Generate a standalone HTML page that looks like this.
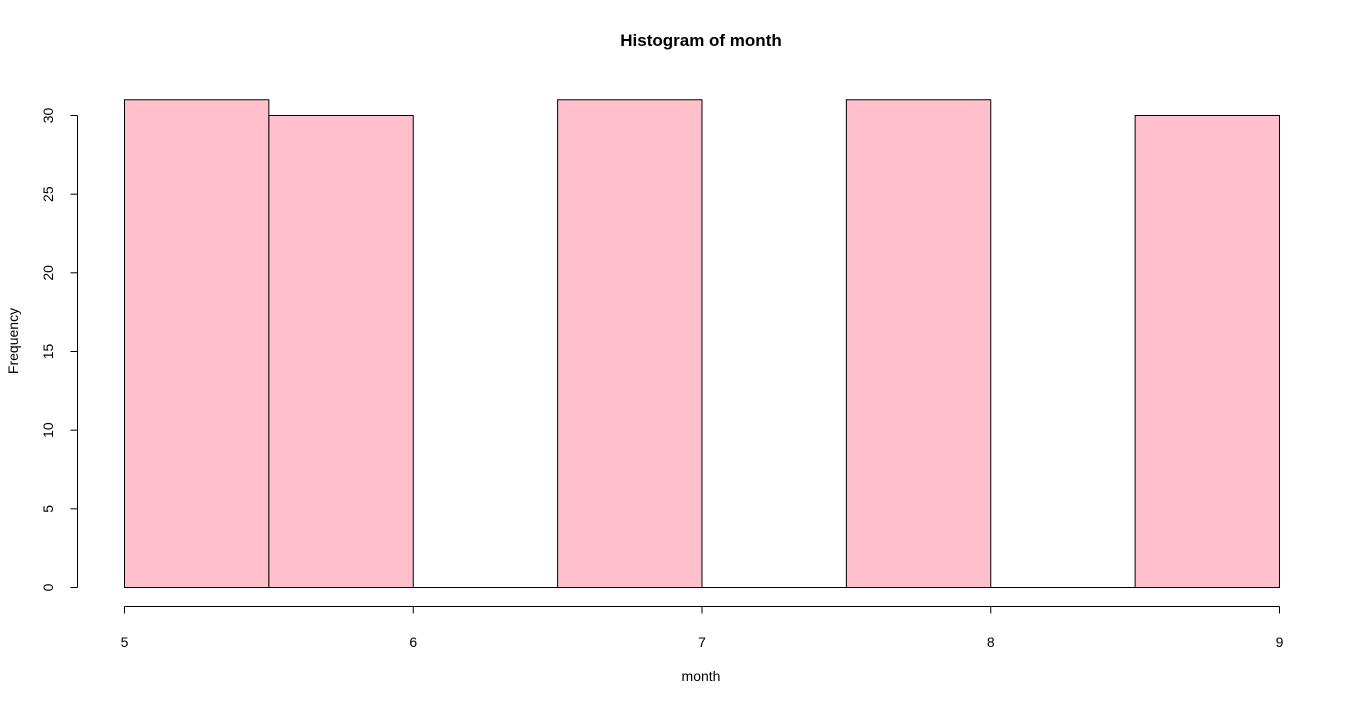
<!DOCTYPE html>
<html><head><meta charset="utf-8"><style>
body{margin:0;background:#fff;}
svg{display:block;font-family:"Liberation Sans",Arial,sans-serif;}
</style></head><body>
<svg id="chart" width="1366" height="705">
<text x="701" y="46" text-anchor="middle" font-weight="bold" font-size="17">Histogram of month</text>
<text x="701" y="681" text-anchor="middle" font-size="14">month</text>
<text transform="translate(18,341) rotate(-90)" text-anchor="middle" font-size="14">Frequency</text>
<g id="bars"></g><g id="xaxis"></g><g id="yaxis"></g>
</svg>
<script>
const binStarts=[5,5.5,6,6.5,7,7.5,8,8.5];
const counts=[31,30,0,31,0,31,0,30];
const xTicks=[5,6,7,8,9];
const yTicks=[0,5,10,15,20,25,30];
const binWidth=0.5;
const NS="http://www.w3.org/2000/svg";
function sx(v){return 124.5+(v-5)*(1279-124)/4;}
function sy(v){return 587.5-v*(587-115)/30;}
function mk(t,a,p){const e=document.createElementNS(NS,t);for(const k in a)e.setAttribute(k,a[k]);p.appendChild(e);return e;}
const bars=document.getElementById('bars');
binStarts.forEach((b,i)=>{
 const x0=sx(b),x1=sx(b+binWidth),y=sy(counts[i]);
 let r;
 if(counts[i]===0){
  r=mk('line',{x1:x0,x2:x1,y1:y,y2:y,stroke:'#000','stroke-width':1},bars);
 }else{
  r=mk('rect',{x:x0,y:y,width:x1-x0,height:sy(0)-y,fill:'#ffc0cb',stroke:'#000','stroke-width':1},bars);
 }
 
 
});
const xa=document.getElementById('xaxis');
mk('line',{x1:sx(xTicks[0]),x2:sx(xTicks[xTicks.length-1]),y1:606.5,y2:606.5,stroke:'#000'},xa);
xTicks.forEach(t=>{
 mk('line',{x1:sx(t),x2:sx(t),y1:606.5,y2:613.5,stroke:'#000'},xa);
 const tx=mk('text',{x:sx(t),y:647,'text-anchor':'middle','font-size':14},xa);
 tx.textContent=t;
 
 
});
const ya=document.getElementById('yaxis');
mk('line',{x1:77.5,x2:77.5,y1:sy(yTicks[0]),y2:sy(yTicks[yTicks.length-1]),stroke:'#000'},ya);
yTicks.forEach(t=>{
 mk('line',{x1:70.5,x2:77.5,y1:sy(t),y2:sy(t),stroke:'#000'},ya);
 const tx=mk('text',{transform:'translate(53,'+sy(t)+') rotate(-90)','text-anchor':'middle','font-size':14},ya);
 tx.textContent=t;
 
 
});
</script>
</body></html>
